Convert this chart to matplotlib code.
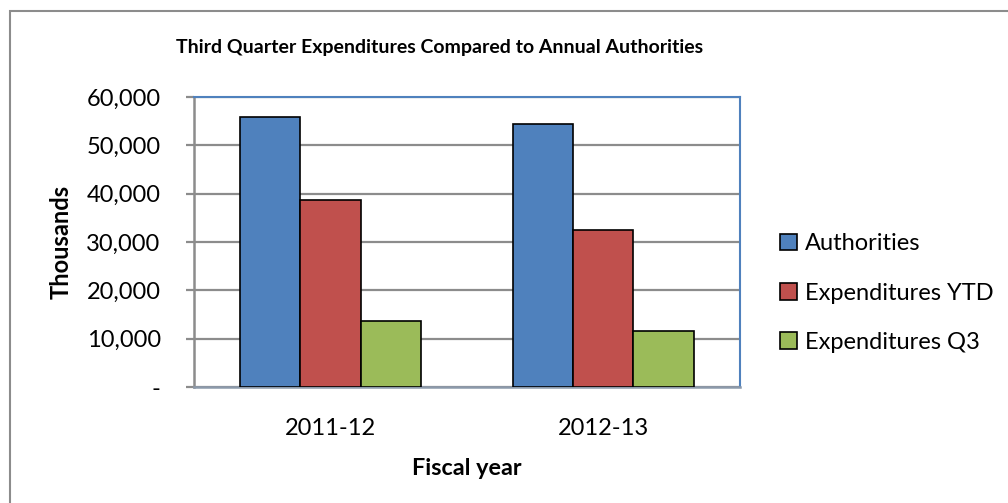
import matplotlib
matplotlib.use("Agg")
import matplotlib.pyplot as plt
from matplotlib.patches import Rectangle, Patch
from matplotlib.ticker import FuncFormatter
import numpy as np

plt.rcParams['font.family'] = ['Lato', 'DejaVu Sans']

# data
years = ['2011-12', '2012-13']
series_names = ['Authorities', 'Expenditures YTD', 'Expenditures Q3']
authorities = [55800, 54500]
expenditures_ytd = [38600, 32400]
expenditures_q3 = [13600, 11500]
colors = ['#4F81BD', '#C0504D', '#9BBB59']

fig = plt.figure(figsize=(10.08, 5.03), dpi=100)

# outer chart frame (only top and left visible in the reference)
fig.patches.append(Rectangle((10 / 1008, -0.1), 1.2, 1 - 11 / 503 + 0.1,
                             transform=fig.transFigure, fill=False,
                             edgecolor='#8c8c8c', linewidth=1.5))

ax = fig.add_axes([194 / 1008, 1 - 387 / 503, 545.5 / 1008, 290 / 503])

x = np.arange(len(years))
w = 0.221
for j, vals in enumerate([authorities, expenditures_ytd, expenditures_q3]):
    ax.bar(x + (j - 1) * w, vals, width=w, color=colors[j],
           edgecolor='black', linewidth=1.2, label=series_names[j], zorder=3)

ax.set_xlim(-0.5, 1.5)
ax.set_ylim(0, 60000)
ax.set_yticks(np.arange(0, 60001, 10000))
ax.yaxis.set_major_formatter(FuncFormatter(lambda v, p: '-' if v == 0 else f'{int(v):,}'))
ax.set_xticks(x)
ax.set_xticklabels(years)
ax.grid(axis='y', color='#8c8c8c', linewidth=1.6, zorder=0)

for side in ['top', 'right']:
    ax.spines[side].set_color('#4F81BD')
    ax.spines[side].set_linewidth(1.5)
ax.spines['left'].set_color('#8c8c8c')
ax.spines['left'].set_linewidth(1.8)
ax.spines['bottom'].set_color('#8c9aab')
ax.spines['bottom'].set_linewidth(1.8)

ax.tick_params(axis='y', length=6, width=1.6, color='#8c8c8c', labelsize=17, pad=18)
ax.tick_params(axis='x', length=0, labelsize=17, pad=22)

ax.set_ylabel('Thousands', fontsize=17, fontweight='bold', labelpad=10)
ax.set_xlabel('Fiscal year', fontsize=16.8, fontweight='bold', labelpad=14)

fig.text(440 / 1008, 1 - 48 / 503,
         'Third Quarter Expenditures Compared to Annual Authorities',
         ha='center', va='center', fontsize=14, fontweight='bold')

handles = [Patch(facecolor=c, edgecolor='black', linewidth=1.2) for c in colors]
fig.legend(handles, series_names, loc='center left',
           bbox_to_anchor=(759 / 1008, 1 - 293 / 503), frameon=False,
           fontsize=17, handlelength=0.7, handleheight=0.7,
           handletextpad=0.35, labelspacing=1.2)

fig.savefig('out.png', dpi=100)
